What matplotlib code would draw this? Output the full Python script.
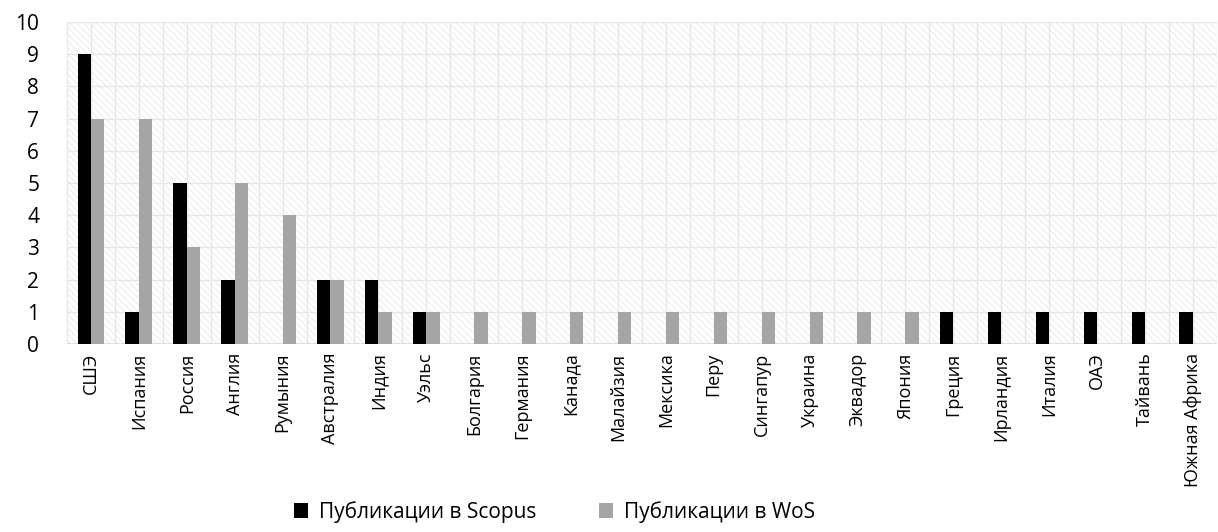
import matplotlib.pyplot as plt
import numpy as np
from matplotlib.patches import Rectangle

plt.rcParams["font.family"] = ["Open Sans", "DejaVu Sans"]
plt.rcParams["hatch.linewidth"] = 0.7

countries = ["СШЭ", "Испания", "Россия", "Англия", "Румыния", "Австралия", "Индия",
             "Уэльс", "Болгария", "Германия", "Канада", "Малайзия", "Мексика", "Перу",
             "Сингапур", "Украина", "Эквадор", "Япония", "Греция", "Ирландия", "Италия",
             "ОАЭ", "Тайвань", "Южная Африка"]
scopus = [9, 1, 5, 2, 0, 2, 2, 1, 0, 0, 0, 0, 0, 0, 0, 0, 0, 0, 1, 1, 1, 1, 1, 1]
wos = [7, 7, 3, 5, 4, 2, 1, 1, 1, 1, 1, 1, 1, 1, 1, 1, 1, 1, 0, 0, 0, 0, 0, 0]
series_names = ["Публикации в Scopus", "Публикации в WoS"]

fig = plt.figure(figsize=(12.18, 5.32), dpi=100)
ax = fig.add_axes([0.055, 0.353, 0.944, 0.606])

n = len(countries)
x = np.arange(n)
w = 0.28

# hatched plot background
ax.add_patch(Rectangle((-0.5, 0), n, 10, facecolor="white", edgecolor="#ebebeb",
                       hatch="\\\\\\\\\\", linewidth=0, zorder=0))
for v in np.arange(-0.5, n, 0.5):
    ax.axvline(v, color="#e6e6e6", linewidth=1.0, zorder=1)
for v in range(1, 11):
    ax.axhline(v, color="#e6e6e6", linewidth=1.0, zorder=1)

ax.bar(x - w / 2, scopus, width=w, color="black", label=series_names[0], zorder=3)
ax.bar(x + w / 2, wos, width=w, color="#a5a5a5", label=series_names[1], zorder=3)

ax.set_xlim(-0.5, n - 0.5)
ax.set_ylim(0, 10)
ax.set_yticks(range(0, 11))
ax.set_xticks(x)
ax.set_xticklabels(countries, rotation=90, fontsize=13)
ax.tick_params(axis="y", labelsize=15, length=0, pad=20)
ax.tick_params(axis="x", length=0, pad=6)
for s in ax.spines.values():
    s.set_visible(False)
ax.axhline(0, color="#d9d9d9", linewidth=1.2, zorder=2)

fig.legend(loc="lower center", bbox_to_anchor=(0.455, -0.018), ncol=2, frameon=False,
           fontsize=15, handlelength=0.7, handleheight=0.7, handletextpad=0.5,
           columnspacing=3.0)

fig.savefig("out.png")
